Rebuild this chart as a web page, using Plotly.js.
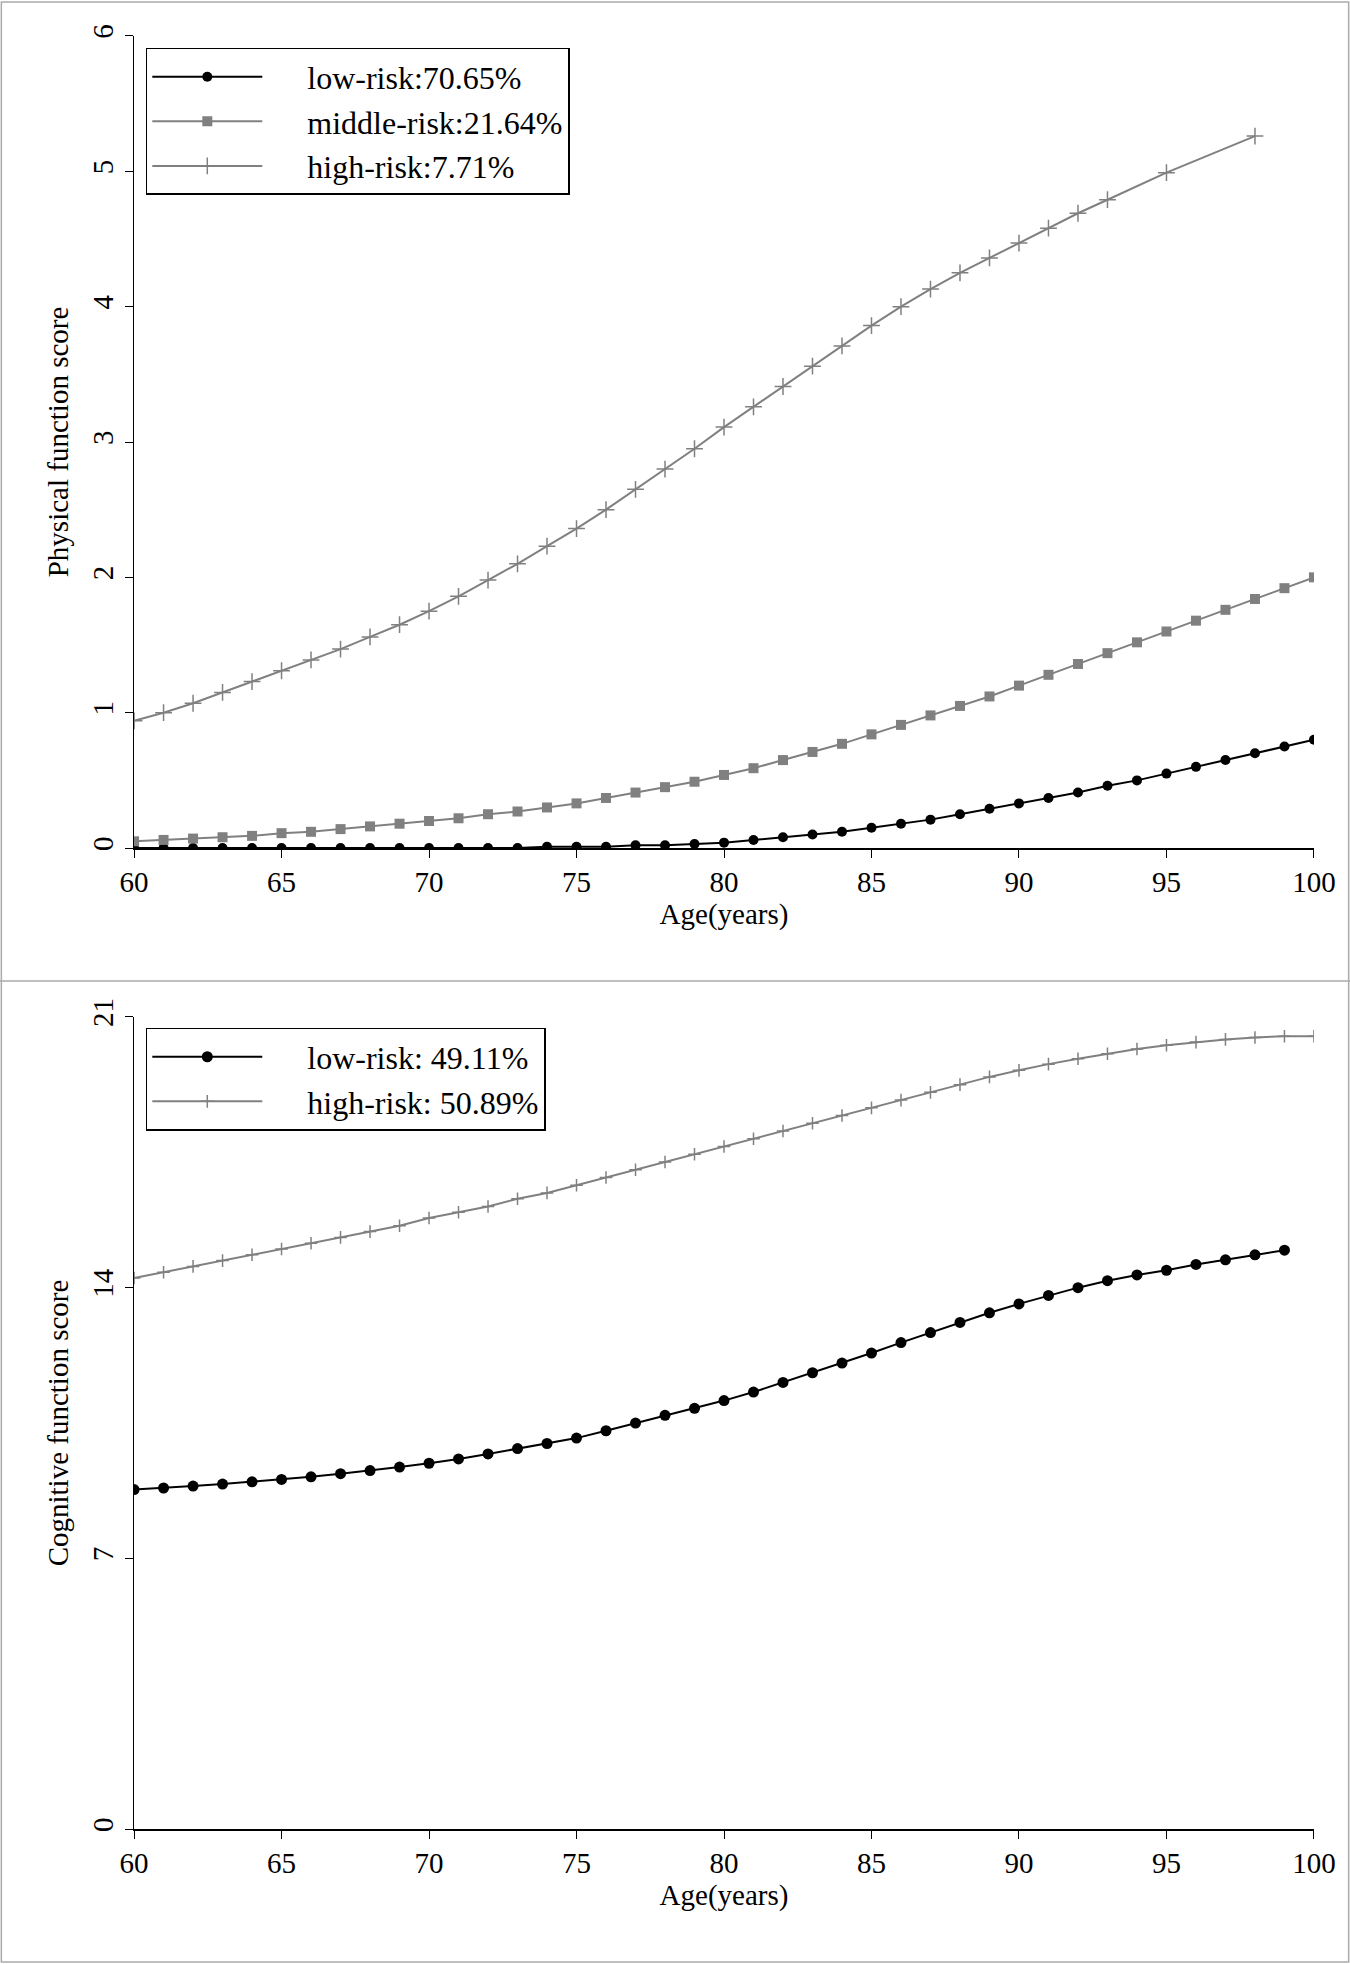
<!DOCTYPE html>
<html>
<head>
<meta charset="utf-8">
<script src="https://cdn.plot.ly/plotly-3.0.1.min.js"></script>
<style>html,body{margin:0;padding:0;background:#fff}</style>
</head>
<body>
<div id="chart" style="width:1350px;height:1964px"></div>
<script>
// top panel: physical function
const agesFull = [60,61,62,63,64,65,66,67,68,69,70,71,72,73,74,75,76,77,78,79,80,81,82,83,84,85,86,87,88,89,90,91,92,93,94,95,96,97,98,99,100];
const physLow = [0.00,0.00,0.00,0.00,0.00,0.00,0.00,0.00,0.00,0.00,0.00,0.00,0.00,0.00,0.01,0.01,0.01,0.02,0.02,0.03,0.04,0.06,0.08,0.10,0.12,0.15,0.18,0.21,0.25,0.29,0.33,0.37,0.41,0.46,0.50,0.55,0.60,0.65,0.70,0.75,0.80];
const physMid = [0.05,0.06,0.07,0.08,0.09,0.11,0.12,0.14,0.16,0.18,0.20,0.22,0.25,0.27,0.30,0.33,0.37,0.41,0.45,0.49,0.54,0.59,0.65,0.71,0.77,0.84,0.91,0.98,1.05,1.12,1.20,1.28,1.36,1.44,1.52,1.60,1.68,1.76,1.84,1.92,2.00];
const agesHigh = [60,61,62,63,64,65,66,67,68,69,70,71,72,73,74,75,76,77,78,79,80,81,82,83,84,85,86,87,88,89,90,91,92,93,95,98];
const physHigh = [0.94,1.00,1.07,1.15,1.23,1.31,1.39,1.47,1.56,1.65,1.75,1.86,1.98,2.10,2.23,2.36,2.50,2.65,2.80,2.95,3.11,3.26,3.41,3.56,3.71,3.86,4.00,4.13,4.25,4.36,4.47,4.58,4.69,4.79,4.99,5.26];

// bottom panel: cognitive function
const agesCogLow = agesFull.slice(0, 40);
const cogLow = [8.78,8.82,8.87,8.92,8.98,9.04,9.11,9.19,9.27,9.36,9.46,9.57,9.70,9.84,9.97,10.11,10.30,10.50,10.70,10.88,11.08,11.30,11.55,11.80,12.05,12.31,12.58,12.84,13.10,13.35,13.58,13.80,14.00,14.18,14.33,14.45,14.60,14.72,14.85,14.97];
const cogHigh = [14.25,14.40,14.55,14.70,14.85,15.00,15.15,15.30,15.45,15.60,15.80,15.95,16.10,16.30,16.45,16.65,16.85,17.05,17.25,17.45,17.65,17.85,18.05,18.25,18.45,18.65,18.85,19.05,19.25,19.45,19.62,19.78,19.92,20.05,20.17,20.27,20.35,20.42,20.47,20.50,20.50];

const black = '#000000', grey = '#808080';
const font = 'Liberation Serif, Times New Roman, serif';
const pad = '\u00a0\u00a0\u00a0\u00a0\u00a0';

const traces = [
  {x: agesFull, y: physLow, name: pad + 'low-risk:70.65%', mode: 'lines+markers', line: {color: black, width: 2}, marker: {symbol: 'circle', size: 10, color: black}, xaxis: 'x', yaxis: 'y', legend: 'legend'},
  {x: agesFull, y: physMid, name: pad + 'middle-risk:21.64%', mode: 'lines+markers', line: {color: grey, width: 2}, marker: {symbol: 'square', size: 10, color: grey}, xaxis: 'x', yaxis: 'y', legend: 'legend'},
  {x: agesHigh, y: physHigh, name: pad + 'high-risk:7.71%', mode: 'lines+markers', line: {color: grey, width: 2}, marker: {symbol: 'cross-thin', size: 12, line: {color: grey, width: 1.5}}, xaxis: 'x', yaxis: 'y', legend: 'legend'},
  {x: agesCogLow, y: cogLow, name: pad + 'low-risk: 49.11%', mode: 'lines+markers', line: {color: black, width: 2}, marker: {symbol: 'circle', size: 11, color: black}, xaxis: 'x2', yaxis: 'y2', legend: 'legend2'},
  {x: agesFull, y: cogHigh, name: pad + 'high-risk: 50.89%', mode: 'lines+markers', line: {color: grey, width: 2}, marker: {symbol: 'cross-thin', size: 9, line: {color: grey, width: 1.5}}, xaxis: 'x2', yaxis: 'y2', legend: 'legend2'}
];

function xAxis(anchor) {
  return {domain: [0.0993, 0.9733], range: [60, 100], dtick: 5, anchor: anchor,
    showline: true, linecolor: black, linewidth: 1.5, ticks: 'outside', ticklen: 8, tickcolor: black,
    showgrid: false, zeroline: false, tickfont: {size: 29, color: black},
    title: {text: 'Age(years)', font: {size: 29, color: black}, standoff: 0}};
}
function yAxis(anchor, dom, range, dtick, title) {
  return {domain: dom, range: range, dtick: dtick, anchor: anchor,
    showline: true, linecolor: black, linewidth: 1.5, ticks: 'outside', ticklen: 8, tickcolor: black,
    showgrid: false, zeroline: false, tickangle: -90, tickfont: {size: 29, color: black},
    title: {text: title, font: {size: 29, color: black}, standoff: 10}};
}
const legendStyle = {bordercolor: black, borderwidth: 1.5, bgcolor: '#fff', font: {size: 32, color: black},
  xanchor: 'left', yanchor: 'top', itemwidth: 110, tracegroupgap: 0};

const layout = {
  width: 1350, height: 1964, margin: {l: 0, r: 0, t: 0, b: 0},
  paper_bgcolor: '#fff', plot_bgcolor: '#fff', font: {family: font, color: black},
  xaxis: xAxis('y'),
  yaxis: yAxis('x', [0.5682, 0.9817], [0, 6], 1, 'Physical function score'),
  xaxis2: xAxis('y2'),
  yaxis2: yAxis('x2', [0.0687, 0.4822], [0, 21], 7, 'Cognitive function score'),
  legend: Object.assign({x: 0.108, y: 0.9756}, legendStyle),
  legend2: Object.assign({x: 0.108, y: 0.4766}, legendStyle),
  shapes: [
    {type: 'rect', xref: 'paper', yref: 'paper', x0: 0.001, x1: 0.999, y0: 0.001, y1: 0.999, line: {color: '#aaaaaa', width: 1.5}},
    {type: 'line', xref: 'paper', yref: 'paper', x0: 0, x1: 1, y0: 0.5005, y1: 0.5005, line: {color: '#aaaaaa', width: 1.5}}
  ]
};

Plotly.newPlot('chart', traces, layout, {displayModeBar: false, staticPlot: true});
</script>
</body>
</html>
